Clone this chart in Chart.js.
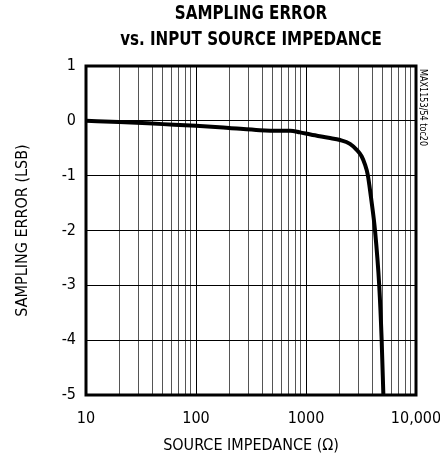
<!DOCTYPE html>
<html>
<head>
<meta charset="utf-8">
<script src="https://cdn.jsdelivr.net/npm/chart.js@4/dist/chart.umd.min.js"></script>
<style>
html,body{margin:0;padding:0;background:#fff;}
#wrap{width:440px;height:459px;}
</style>
</head>
<body>
<div id="wrap"><canvas id="c" width="440" height="459"></canvas></div>
<script>
// Data
const impedance = [10, 20, 50, 100, 200, 380, 580, 720, 880, 1100, 1600, 2040, 2510, 2890, 3210, 3440, 3640, 3765, 3900, 4240, 4630, 4870, 5050];
const samplingError = [0.0, -0.02, -0.06, -0.09, -0.13, -0.17, -0.18, -0.18, -0.21, -0.25, -0.31, -0.35, -0.42, -0.53, -0.65, -0.80, -0.98, -1.17, -1.40, -2.0, -3.0, -3.98, -5.0];
const xTickValues = [10,20,30,40,50,60,70,80,90,100,200,300,400,500,600,700,800,900,1000,2000,3000,4000,5000,6000,7000,8000,9000,10000];
const xTickLabels = {10:'10', 100:'100', 1000:'1000', 10000:'10,000'};
const yTickValues = [1, 0, -1, -2, -3, -4, -5];
const titleLines = ['SAMPLING ERROR', 'vs. INPUT SOURCE IMPEDANCE'];
const xTitle = 'SOURCE IMPEDANCE (\u03A9)';
const yTitle = 'SAMPLING ERROR (LSB)';
const sideNote = 'MAX1153/54 toc20';

const NARROW = '"Liberation Sans Narrow", "Arial Narrow", "DejaVu Sans Condensed", sans-serif';

// Title drawn as real canvas text, horizontally compressed to mimic a condensed black face
const titlePlugin = {
  id: 'condensedTitle',
  afterDraw(chart) {
    const ctx = chart.ctx, a = chart.chartArea;
    const cx = (a.left + a.right) / 2;
    ctx.save();
    ctx.font = 'bold 20px ' + NARROW;
    ctx.fillStyle = '#000';
    ctx.textAlign = 'center';
    ctx.textBaseline = 'middle';
    const ys = [14, 40];
    titleLines.forEach((t, i) => {
      ctx.save();
      ctx.translate(cx, ys[i]);
      ctx.scale(0.84, 1);
      ctx.fillText(t, 0, 0);
      ctx.restore();
    });
    ctx.restore();
  }
};

const sideNotePlugin = {
  id: 'sideNote',
  afterDraw(chart) {
    const ctx = chart.ctx, a = chart.chartArea;
    ctx.save();
    ctx.translate(a.right + 7, a.top + 3);
    ctx.rotate(Math.PI / 2);
    ctx.scale(0.9, 1);
    ctx.font = '10px ' + NARROW;
    ctx.fillStyle = '#000';
    ctx.textAlign = 'left';
    ctx.textBaseline = 'middle';
    ctx.fillText(sideNote, 0, 0);
    ctx.restore();
  }
};

const borderPlugin = {
  id: 'frame',
  afterDatasetsDraw(chart) {
    const ctx = chart.ctx, a = chart.chartArea;
    ctx.save();
    ctx.strokeStyle = '#000';
    ctx.lineWidth = 3;
    ctx.strokeRect(a.left, a.top, a.right - a.left, a.bottom - a.top);
    ctx.restore();
  }
};

new Chart(document.getElementById('c'), {
  type: 'line',
  data: {
    datasets: [{
      data: impedance.map((x, i) => ({x: x, y: samplingError[i]})),
      borderColor: '#000',
      borderWidth: 4,
      pointRadius: 0,
      cubicInterpolationMode: 'monotone',
      fill: false
    }]
  },
  options: {
    responsive: false,
    animation: false,
    devicePixelRatio: 1,
    layout: {padding: {left: 0, right: 24, top: 66, bottom: 0}},
    plugins: {
      legend: {display: false},
      tooltip: {enabled: false},
      title: {display: false}
    },
    scales: {
      x: {
        type: 'logarithmic',
        min: 10, max: 10000,
        afterBuildTicks(scale) { scale.ticks = xTickValues.map(v => ({value: v})); },
        afterFit(scale) { scale.height = 64; scale.paddingLeft = 0; scale.paddingRight = 0; },
        ticks: {
          autoSkip: false, maxRotation: 0, color: '#000', padding: 14,
          font: {family: NARROW, size: 16},
          callback: (v) => xTickLabels[v] || ''
        },
        grid: {
          drawTicks: false,
          color: (c) => (xTickLabels[c.tick && c.tick.value] ? '#000' : '#555'),
          lineWidth: 1
        },
        border: {display: false},
        title: {display: true, text: xTitle, color: '#000', font: {family: NARROW, size: 16}, padding: {top: 0, bottom: 4}}
      },
      y: {
        min: -5, max: 1,
        afterBuildTicks(scale) { scale.ticks = yTickValues.map(v => ({value: v})); },
        afterFit(scale) { scale.width = 86; scale.paddingTop = 0; scale.paddingBottom = 0; },
        ticks: {color: '#000', padding: 10, font: {family: NARROW, size: 16}},
        grid: {drawTicks: false, color: '#000', lineWidth: 1},
        border: {display: false},
        title: {display: true, text: yTitle, color: '#000', font: {family: NARROW, size: 16}, padding: {top: 13, bottom: 0}}
      }
    }
  },
  plugins: [borderPlugin, sideNotePlugin, titlePlugin]
});
</script>
</body>
</html>
